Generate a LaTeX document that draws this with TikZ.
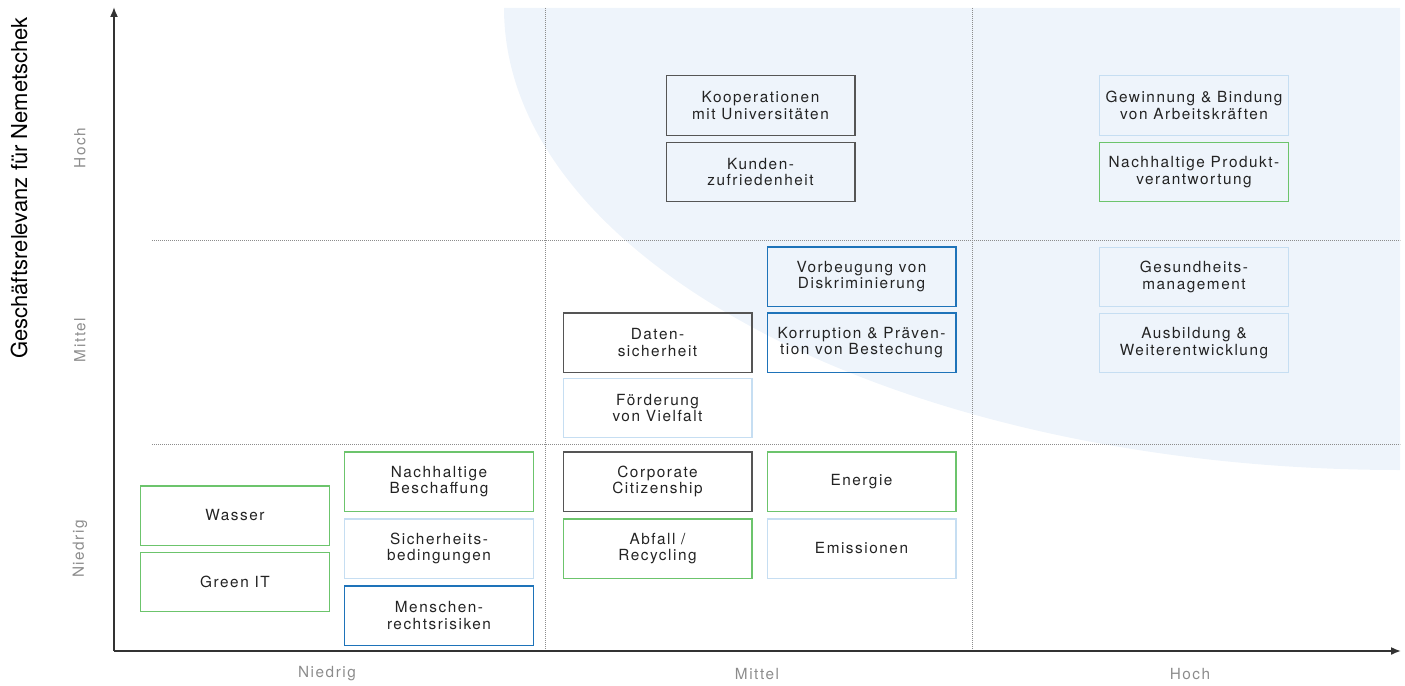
\documentclass[tikz,border=0pt]{standalone}
\usepackage{fontspec}
\setmainfont{TeX Gyre Heros}
\newfontfamily\boxfont{TeX Gyre Heros}[LetterSpace=10]
\usetikzlibrary{arrows.meta}
\definecolor{boxgreen}{RGB}{108,196,108}
\definecolor{boxblue}{RGB}{30,115,185}
\definecolor{boxlight}{RGB}{198,222,242}
\definecolor{boxdark}{RGB}{85,85,85}
\definecolor{areablue}{RGB}{238,244,251}
\definecolor{labelgray}{RGB}{140,140,140}
\definecolor{textdark}{RGB}{35,35,35}

\begin{document}
\begin{tikzpicture}[
    x=0.75pt, y=-0.75pt,
    topic/.style={rectangle, draw, line width=1.1pt, minimum width=141.4pt, minimum height=44.6pt, inner sep=0pt, align=center, text=textdark, font=\boxfont\fontsize{11.5}{12.5}\selectfont},
    darkbox/.style={topic, draw=boxdark},
    greenbox/.style={topic, draw=boxgreen},
    bluebox/.style={topic, draw=boxblue},
    lightbox/.style={topic, draw=boxlight},
    tier/.style={text=labelgray, font=\boxfont\fontsize{11.5}{12.5}\selectfont},
    gridline/.style={draw=labelgray, line width=0.6pt, dash pattern=on 0.6pt off 0.9pt},
    axis/.style={draw=black!80, line width=1.2pt, -{Latex[length=7.5pt,width=6pt]}}
]
\useasboundingbox (0,0) rectangle (1405,685);

% Shaded area: high relevance
\fill[areablue] (1400,8) -- (504,8) arc[start angle=180, end angle=270, x radius=672pt, y radius=346.5pt] -- cycle;

% Grid
\draw[gridline] (545,8) -- (545,651);
\draw[gridline] (972,8) -- (972,651);
\draw[gridline] (152,240) -- (1400,240);
\draw[gridline] (152,444) -- (1400,444);

% Axes
\coordinate (origin) at (114,651);
\coordinate (ytip) at (114,7);
\coordinate (xtip) at (1401,651);
\draw[axis] (origin) -- (ytip);
\draw[axis] (origin) -- (xtip);

% Axis labels
\node[rotate=90, font=\fontsize{16.5}{20}\selectfont] (relevanz) at (19,188) {Geschäftsrelevanz für Nemetschek};
\node[tier, rotate=90] (yhoch) at (80,148) {Hoch};
\node[tier, rotate=90] (ymittel) at (80,340) {Mittel};
\node[tier, rotate=90] (yniedrig) at (80,549) {Niedrig};
\node[tier] (xniedrig) at (327,674) {Niedrig};
\node[tier] (xmittel) at (757,674) {Mittel};
\node[tier] (xhoch) at (1190,674) {Hoch};

% Niedrig / Niedrig
\node[greenbox] (wasser) at (235,515.5) {Wasser};
\node[greenbox] (greenit) at (235,582) {Green IT};
\node[greenbox] (beschaffung) at (439,481.5) {Nachhaltige\\Beschaffung};
\node[lightbox] (sicherheit) at (439,548.5) {Sicherheits-\\bedingungen};
\node[bluebox] (menschenrechte) at (439,615.5) {Menschen-\\rechtsrisiken};

% Mittel column
\node[darkbox] (daten) at (657.5,342.5) {Daten-\\sicherheit};
\node[lightbox] (vielfalt) at (657.5,408) {Förderung\\von Vielfalt};
\node[darkbox] (citizenship) at (657.5,481.5) {Corporate\\Citizenship};
\node[greenbox] (abfall) at (657.5,548.5) {Abfall /\\Recycling};
\node[bluebox] (diskriminierung) at (861.5,276.5) {Vorbeugung von\\Diskriminierung};
\node[bluebox] (korruption) at (861.5,342.5) {Korruption \& Präven-\\tion von Bestechung};
\node[greenbox] (energie) at (861.5,481.5) {Energie};
\node[lightbox] (emissionen) at (861.5,548.5) {Emissionen};
\node[darkbox] (kooperationen) at (760.5,105.5) {Kooperationen\\mit Universitäten};
\node[darkbox] (kunden) at (760.5,172) {Kunden-\\zufriedenheit};

% Hoch column
\node[lightbox] (arbeitskraefte) at (1194,105.5) {Gewinnung \& Bindung\\von Arbeitskräften};
\node[greenbox] (produkt) at (1194,172) {Nachhaltige Produkt-\\verantwortung};
\node[lightbox] (gesundheit) at (1194,277) {Gesundheits-\\management};
\node[lightbox] (ausbildung) at (1194,343) {Ausbildung \&\\Weiterentwicklung};

\end{tikzpicture}
\end{document}
